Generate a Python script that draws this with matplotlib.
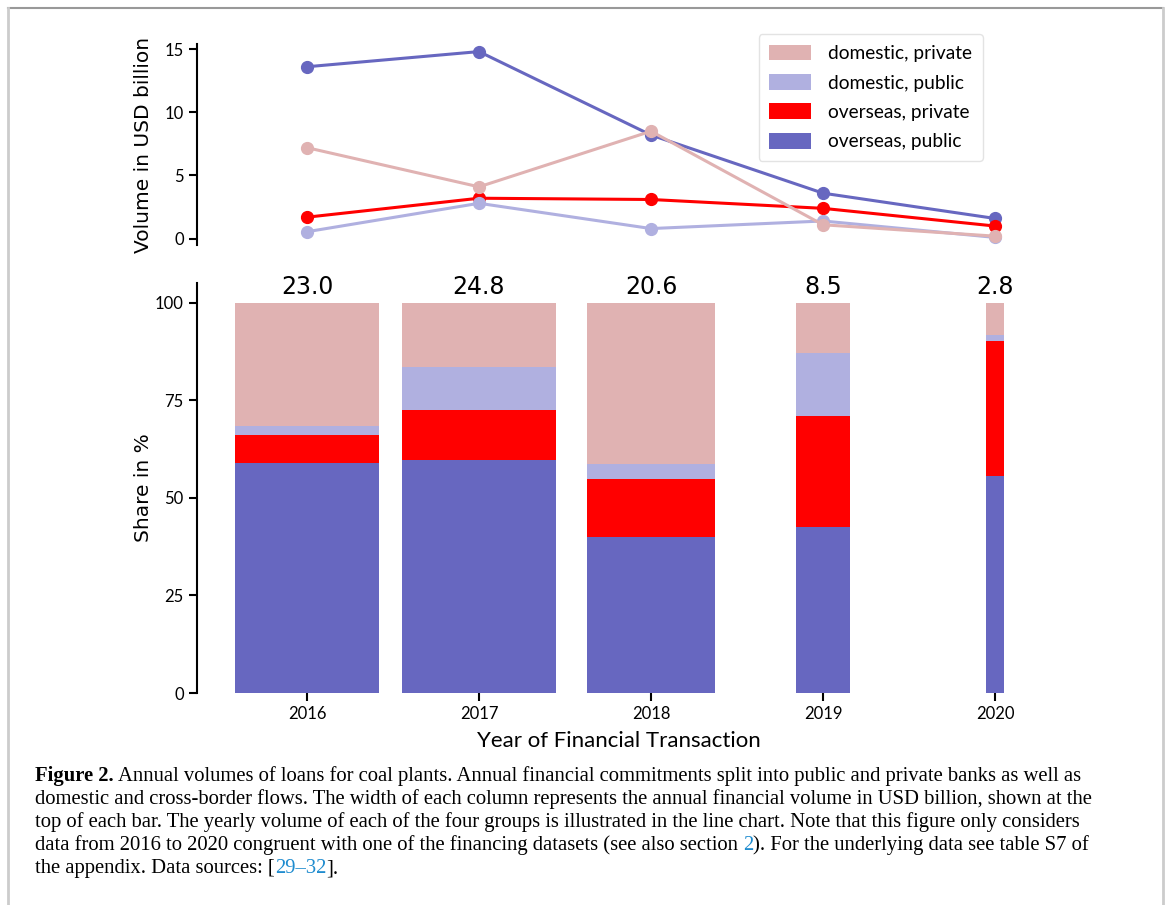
import matplotlib
matplotlib.use("Agg")
import matplotlib.pyplot as plt
from matplotlib.patches import Patch
from matplotlib.lines import Line2D
import numpy as np

# ---------------- data ----------------
years = [2016, 2017, 2018, 2019, 2020]
groups = ["domestic, private", "domestic, public", "overseas, private", "overseas, public"]
colors = {"domestic, private": "#e0b2b2", "domestic, public": "#b0b0e0",
          "overseas, private": "#ff0000", "overseas, public": "#6767c0"}

# annual volumes (USD billion)
vol_dom_private = [7.2, 4.1, 8.5, 1.1, 0.2]
vol_dom_public = [0.55, 2.8, 0.8, 1.4, 0.1]
vol_ovs_private = [1.7, 3.2, 3.1, 2.4, 1.0]
vol_ovs_public = [13.6, 14.8, 8.2, 3.6, 1.6]

# shares (%)
share_ovs_public = [58.8, 59.6, 39.9, 42.6, 55.6]
share_ovs_private = [7.4, 12.8, 14.9, 28.3, 34.5]
share_dom_public = [2.3, 11.0, 3.8, 16.3, 1.7]
share_dom_private = [31.5, 16.6, 41.4, 12.8, 8.2]

totals = [23.0, 24.8, 20.6, 8.5, 2.8]
total_labels = ["23.0", "24.8", "20.6", "8.5", "2.8"]

caption_lines = [
    [("Figure 2.", "bold"), (" Annual volumes of loans for coal plants. Annual financial commitments split into public and private banks as well as", "normal")],
    [("domestic and cross-border flows. The width of each column represents the annual financial volume in USD billion, shown at the", "normal")],
    [("top of each bar. The yearly volume of each of the four groups is illustrated in the line chart. Note that this figure only considers", "normal")],
    [("data from 2016 to 2020 congruent with one of the financing datasets (see also section ", "normal"), ("2", "link"), ("). For the underlying data see table S7 of", "normal")],
    [("the appendix. Data sources: [", "normal"), ("29\u201332", "link"), ("].", "normal")],
]

# ---------------- figure ----------------
W, H = 1170, 905
fig = plt.figure(figsize=(W / 100, H / 100), dpi=100)

tick_font = "Lato"
label_font = "DejaVu Sans"

left, right = 197 / W, 1040 / W
ax_top = fig.add_axes([left, 1 - 245 / H, right - left, (245 - 44) / H])
ax_bot = fig.add_axes([left, 1 - 693 / H, right - left, (693 - 283) / H], sharex=ax_top)

# ---- line chart ----
series = {"domestic, private": vol_dom_private, "domestic, public": vol_dom_public,
          "overseas, private": vol_ovs_private, "overseas, public": vol_ovs_public}
for g in ["overseas, public", "overseas, private", "domestic, public", "domestic, private"]:
    ax_top.plot(years, series[g], color=colors[g], lw=2.2, marker="o", ms=8.5, zorder=3)

ax_top.set_ylim(-0.5, 15.4)
ax_top.set_yticks([0, 5, 10, 15])
for s in ["top", "right", "bottom"]:
    ax_top.spines[s].set_visible(False)
ax_top.spines["left"].set_linewidth(1.5)
ax_top.tick_params(axis="x", which="both", bottom=False, labelbottom=False)
ax_top.tick_params(axis="y", length=6, width=1.5, labelsize=12)
for t in ax_top.get_yticklabels():
    t.set_fontfamily(tick_font)
ax_top.set_ylabel("Volume in USD billion", fontsize=14.5, family=label_font)
ax_top.yaxis.set_label_coords(-0.052, 0.5)

handles = [Patch(facecolor=colors[g], edgecolor="none", label=g) for g in groups]
leg = ax_top.legend(handles=handles, loc="upper right", bbox_to_anchor=(983 / W, 1 - 34 / H),
                    bbox_transform=fig.transFigure, borderaxespad=0, frameon=True,
                    prop={"family": tick_font, "size": 13.8}, handlelength=2.2, handleheight=0.9,
                    labelspacing=0.62, handletextpad=0.9, borderpad=0.55, fancybox=True)
leg.get_frame().set_edgecolor("#dddddd")
leg.get_frame().set_linewidth(1.0)

# ---- stacked share bars ----
max_total = max(totals)
widths = [0.9 * t / max_total for t in totals]
bottom = np.zeros(len(years))
for g, vals in [("overseas, public", share_ovs_public), ("overseas, private", share_ovs_private),
                ("domestic, public", share_dom_public), ("domestic, private", share_dom_private)]:
    ax_bot.bar(years, vals, width=widths, bottom=bottom, color=colors[g], linewidth=0)
    bottom = bottom + np.array(vals)

for x, lab in zip(years, total_labels):
    ax_bot.text(x, 100.8, lab, ha="center", va="bottom", fontsize=17, family=label_font)

ax_bot.set_ylim(0, 105)
ax_bot.set_yticks([0, 25, 50, 75, 100])
ax_bot.set_xticks(years)
ax_bot.set_xticklabels([str(y) for y in years])
for s in ["top", "right", "bottom"]:
    ax_bot.spines[s].set_visible(False)
ax_bot.spines["left"].set_linewidth(1.5)
ax_bot.tick_params(axis="both", length=6, width=1.5, labelsize=12)
ax_bot.tick_params(axis="x", labelbottom=True)
for t in ax_bot.get_xticklabels() + ax_bot.get_yticklabels():
    t.set_fontfamily(tick_font)
ax_bot.set_ylabel("Share in %", fontsize=14.5, family=label_font)
ax_bot.yaxis.set_label_coords(-0.052, 0.5)
ax_bot.set_xlabel("Year of Financial Transaction", fontsize=16, family=tick_font, labelpad=6)
ax_top.set_xlim(2016 - (307 - 197) / 172, 2016 + (1040 - 307) / 172)

# ---- frame lines ----
fig.add_artist(Line2D([8 / W, 1163 / W], [1 - 8 / H, 1 - 8 / H], transform=fig.transFigure, color="#999999", lw=1.5))
fig.add_artist(Line2D([8 / W, 8 / W], [0, 1 - 8 / H], transform=fig.transFigure, color="#cccccc", lw=2))
fig.add_artist(Line2D([1163 / W, 1163 / W], [0, 1 - 8 / H], transform=fig.transFigure, color="#cccccc", lw=2))

# ---- caption ----
cap_font = "Liberation Serif"
cap_size = 14.85
link_color = "#1f8ccf"
fig.canvas.draw()
renderer = fig.canvas.get_renderer()
y0 = 781
for i, segs in enumerate(caption_lines):
    xpix = 35
    ypix = y0 + i * 23
    for txt, style in segs:
        t = fig.text(xpix / W, 1 - ypix / H, txt, ha="left", va="baseline", fontsize=cap_size,
                     family=cap_font, fontweight="bold" if style == "bold" else "normal",
                     color=link_color if style == "link" else "black")
        bb = t.get_window_extent(renderer)
        xpix += bb.width

fig.savefig("out.png", dpi=100)
